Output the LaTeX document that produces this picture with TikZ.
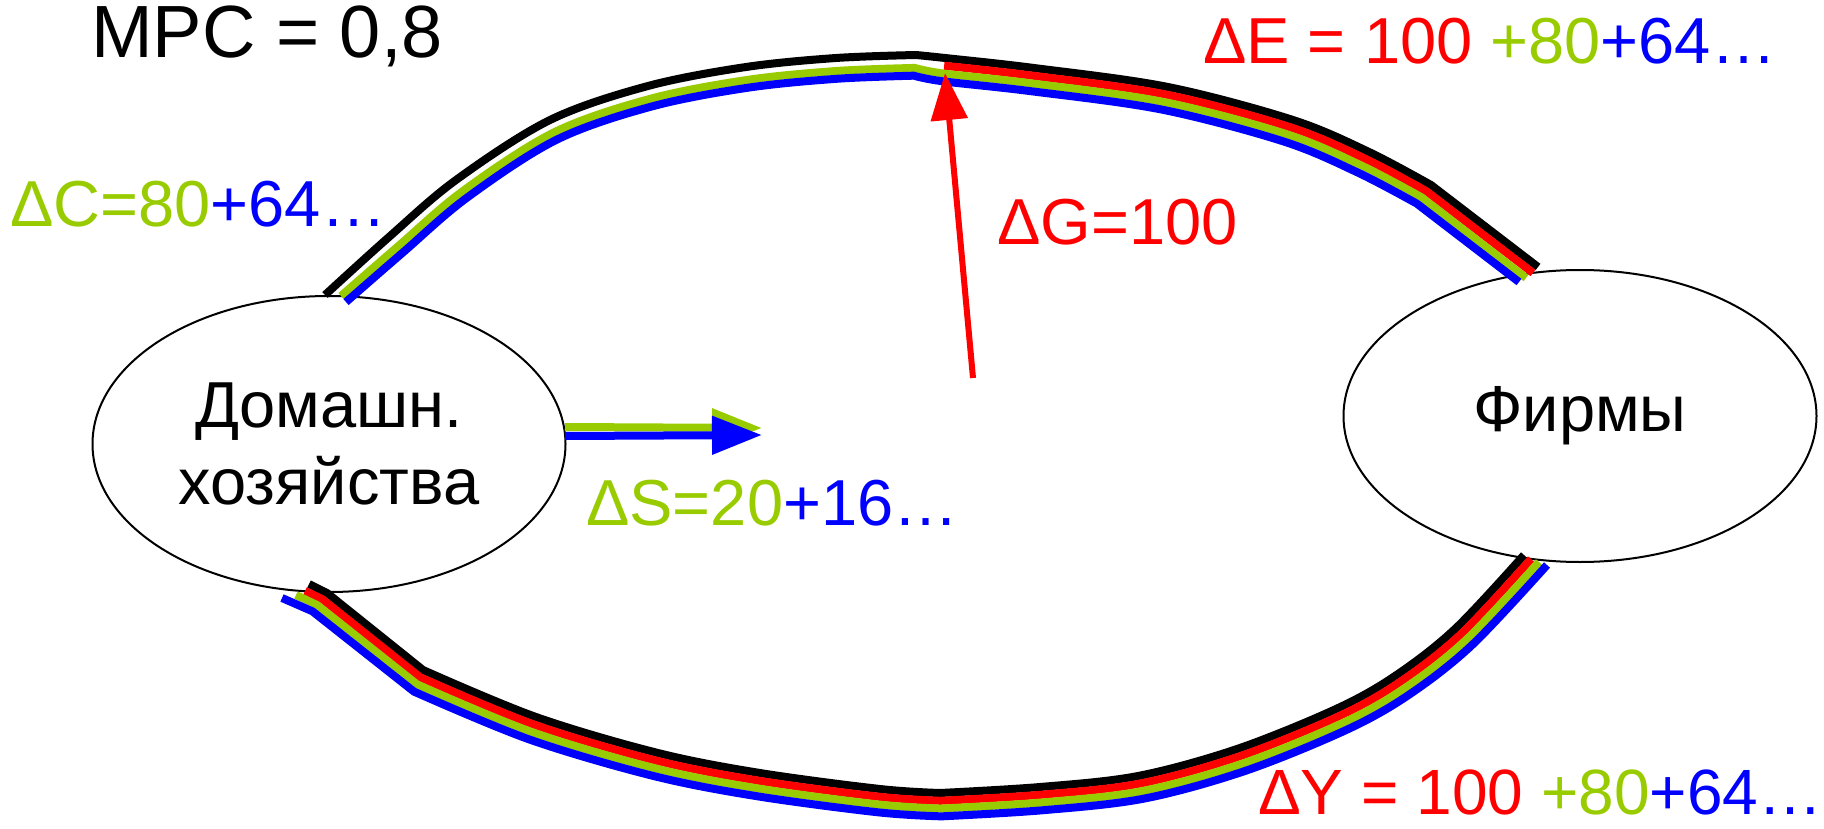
\documentclass[tikz,border=0pt]{standalone}
\usepackage{fontspec}
\setmainfont{Liberation Sans}
\usetikzlibrary{calc,shapes.geometric,arrows.meta}
\definecolor{lgreen}{RGB}{153,204,0}
\definecolor{pred}{RGB}{255,0,0}
\definecolor{pblue}{RGB}{0,0,255}
\begin{document}
\begin{tikzpicture}[x=1pt,y=-1pt,
  strip/.style={line width=8pt, line cap=butt, line join=round},
  lbl/.style={font=\fontsize{65}{78}\selectfont, inner sep=0pt, anchor=base west},
  blob/.style={ellipse, draw=black, line width=2pt, inner sep=0pt, align=center, font=\fontsize{65}{77}\selectfont}
]
\useasboundingbox (0,0) rectangle (1824,829);

% sectors
\node[blob, minimum width=473pt, minimum height=296pt] (hh) at (329,444) {Домашн.\\хозяйства};
\node[blob, minimum width=473pt, minimum height=292pt] (firms) at (1580,416) {Фирмы};

% top flow (base = black, outer)
\foreach \n/\x/\y in {1/325/295, 2/389/237, 3/456/180, 4/550/120, 5/648/86, 6/746/67, 7/836/58, 8/916/55,
  9/945/58, 10/1034/68, 11/1168/87, 12/1293/120, 13/1369/152, 14/1431/185, 15/1538/267}
  \coordinate (t\n) at (\x,\y);
\foreach \i/\j in {1/2,2/3,3/4,4/5,5/6,6/7,7/8,8/9} {
  \coordinate (tg\i) at ($(t\i)!13pt!-90:(t\j)$);
  \coordinate (tb\i) at ($(t\i)!20.8pt!-90:(t\j)$);
}
\foreach \i/\j in {9/10,10/11,11/12,12/13,13/14,14/15} {
  \coordinate (tr\i) at ($(t\i)!7.8pt!-90:(t\j)$);
  \coordinate (tg\i) at ($(t\i)!15.6pt!-90:(t\j)$);
  \coordinate (tb\i) at ($(t\i)!23.4pt!-90:(t\j)$);
}
\coordinate (tgS) at (341,296);
\coordinate (tbS) at (346,302);
\coordinate (trE) at (1533,273);
\coordinate (tgE) at (1526,278);
\coordinate (tbE) at (1519,282);

\draw[strip, black] plot[smooth, tension=.55] coordinates {(t1) (t2) (t3) (t4) (t5) (t6) (t7) (t8)}
  -- plot[smooth, tension=.55] coordinates {(t8) (t9) (t10) (t11) (t12) (t13) (t14)} -- (t15);
\draw[strip, pred] plot[smooth, tension=.55] coordinates {(tr9) (tr10) (tr11) (tr12) (tr13) (tr14)} -- (trE);
\draw[strip, lgreen] plot[smooth, tension=.55] coordinates {(tgS) (tg2) (tg3) (tg4) (tg5) (tg6) (tg7) (tg8)}
  -- plot[smooth, tension=.55] coordinates {(tg8) (tg9) (tg10) (tg11) (tg12) (tg13) (tg14)} -- (tgE);
\draw[strip, pblue] plot[smooth, tension=.55] coordinates {(tbS) (tb2) (tb3) (tb4) (tb5) (tb6) (tb7) (tb8)}
  -- plot[smooth, tension=.55] coordinates {(tb8) (tb9) (tb10) (tb11) (tb12) (tb13) (tb14)} -- (tbE);

% bottom flow (base = black, inner)
\foreach \n/\x/\y in {1/309/584, 2/327/593, 3/423/670, 4/536/717, 5/658/753, 6/760/773, 7/880/789, 8/940/793,
  9/1040/787, 10/1138/776, 11/1237/749, 12/1336/709, 13/1395/676, 14/1455/629, 15/1524/555}
  \coordinate (u\n) at (\x,\y);
\foreach \i/\j in {1/2,2/3,3/4,4/5,5/6,6/7,7/8,8/9,9/10,10/11,11/12,12/13,13/14,14/15} {
  \coordinate (ur\i) at ($(u\i)!7.8pt!-90:(u\j)$);
  \coordinate (ug\i) at ($(u\i)!15.6pt!-90:(u\j)$);
  \coordinate (ub\i) at ($(u\i)!23.4pt!-90:(u\j)$);
}
\coordinate (urS) at (305,591);
\coordinate (ugS) at (296,595);
\coordinate (ubS) at (282,598);
\coordinate (urE) at (1531,559);
\coordinate (ugE) at (1539,562);
\coordinate (ubE) at (1547,565);

\draw[strip, black] (u1) -- (u2) -- (u3)
  -- plot[smooth, tension=.55] coordinates {(u3) (u4) (u5) (u6) (u7) (u8)}
  -- plot[smooth, tension=.55] coordinates {(u8) (u9) (u10) (u11) (u12) (u13) (u14) (u15)};
\draw[strip, pred] (urS) -- (ur2) -- (ur3)
  -- plot[smooth, tension=.55] coordinates {(ur3) (ur4) (ur5) (ur6) (ur7) (ur8)}
  -- plot[smooth, tension=.55] coordinates {(ur8) (ur9) (ur10) (ur11) (ur12) (ur13) (ur14) (urE)};
\draw[strip, lgreen] (ugS) -- (ug2) -- (ug3)
  -- plot[smooth, tension=.55] coordinates {(ug3) (ug4) (ug5) (ug6) (ug7) (ug8)}
  -- plot[smooth, tension=.55] coordinates {(ug8) (ug9) (ug10) (ug11) (ug12) (ug13) (ug14) (ugE)};
\draw[strip, pblue] (ubS) -- (ub2) -- (ub3)
  -- plot[smooth, tension=.55] coordinates {(ub3) (ub4) (ub5) (ub6) (ub7) (ub8)}
  -- plot[smooth, tension=.55] coordinates {(ub8) (ub9) (ub10) (ub11) (ub12) (ub13) (ub14) (ubE)};

% savings arrows
\coordinate (sg0) at (565,427); \coordinate (sg1) at (762,428);
\coordinate (sb0) at (565,436); \coordinate (sb1) at (762,435);
\draw[line width=8pt, lgreen, -{Triangle[length=50pt,width=37pt]}] (sg0) -- (sg1);
\draw[line width=8pt, pblue, -{Triangle[length=50pt,width=37pt]}] (sb0) -- (sb1);

% government arrow
\coordinate (gS) at (973,378); \coordinate (gE) at (945,73);
\draw[line width=6pt, pred, -{Triangle[length=47pt,width=36pt]}] (gS) -- (gE);

% labels
\node[lbl, font=\fontsize{74}{88}\selectfont] (mpc) at (91,58) {MPC = 0,8};
\node[lbl, text=lgreen] (dC) at (10,227) {ΔC=80\textcolor{pblue}{+64…}};
\node[lbl, text=pred] (dE) at (1203,64) {ΔE = 100 \textcolor{lgreen}{+80}\textcolor{pblue}{+64…}};
\node[lbl, text=pred] (dG) at (997,245) {ΔG=100};
\node[lbl, text=lgreen] (dS) at (586,525) {ΔS=20\textcolor{pblue}{+16…}};
\node[lbl, font=\fontsize{64}{77}\selectfont, text=pred] (dY) at (1258,814) {ΔY = 100 \textcolor{lgreen}{+80}\textcolor{pblue}{+64…}};
\end{tikzpicture}
\end{document}
